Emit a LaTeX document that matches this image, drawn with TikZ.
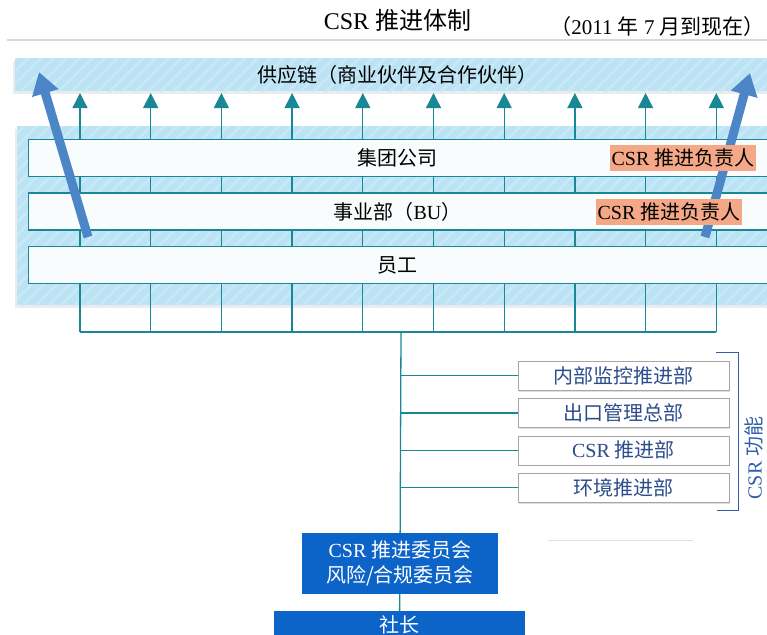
\documentclass[tikz,border=0pt]{standalone}
\usepackage{fontspec}
\setmainfont{Liberation Serif}
\newfontfamily\zhfont{Noto Sans CJK SC}
\newcommand{\zh}[1]{{\zhfont #1}}
\usetikzlibrary{positioning,arrows.meta,shadows,patterns.meta}

\definecolor{panelblue}{RGB}{188,227,244}
\definecolor{hatchblue}{RGB}{200,234,248}
\definecolor{tealline}{RGB}{25,135,150}
\definecolor{barfill}{RGB}{248,252,252}
\definecolor{respfill}{RGB}{245,168,135}
\definecolor{bigarrow}{RGB}{76,134,198}
\definecolor{deptblue}{RGB}{44,76,140}
\definecolor{bracketblue}{RGB}{50,95,170}
\definecolor{boardblue}{RGB}{12,100,200}

\begin{document}
\begin{tikzpicture}[
    x=1pt, y=-1pt,
    every node/.style={font=\fontsize{20}{25}\selectfont, inner sep=0pt},
    band/.style={fill=panelblue,
        postaction={pattern={Lines[angle=45,distance=9pt,line width=2.5pt]}, pattern color=hatchblue},
        drop shadow={shadow xshift=-2pt, shadow yshift=-3pt, fill=black!15}},
    bar/.style={draw=tealline, line width=1.2pt, fill=barfill, anchor=west,
        minimum width=760pt, minimum height=37pt},
    resp/.style={fill=respfill, minimum width=146pt, minimum height=26pt},
    dept/.style={draw=black!35, fill=white, text=deptblue, minimum width=211pt, minimum height=29pt,
        drop shadow={shadow xshift=1pt, shadow yshift=-1.5pt, fill=black!25}},
    board/.style={fill=boardblue, text=white, align=center, minimum width=196pt},
    column/.style={draw=tealline, line width=1.3pt},
    bigarr/.style={draw=bigarrow, line width=9pt, -{Triangle[width=26pt,length=22pt]}}
    ]
    \useasboundingbox (0,0) rectangle (767,634);

    % heading
    \node[font=\fontsize{24}{28}\selectfont] (title) at (397.5,20) {CSR \zh{推进体制}};
    \node[anchor=east, font=\fontsize{21}{25}\selectfont] (period) at (765,27) {\zh{（}2011 \zh{年} 7 \zh{月到现在）}};
    \draw[black!15, line width=1.2pt] (7,40) -- (767,40);

    % blue backgrounds
    \node[band, anchor=north west, minimum width=770pt, minimum height=33pt] (chain) at (15,58) {};
    \node[band, anchor=north west, minimum width=770pt, minimum height=179pt] (panel) at (17,126) {};
    \node (chaintext) at (chain -| title) {\zh{供应链（商业伙伴及合作伙伴）}};

    % columns up to the supply chain
    \foreach \i in {1,...,10} {
        \coordinate (top\i) at ({80+70.7*(\i-1)}, 93);
        \coordinate (bot\i) at ({80+70.7*(\i-1)}, 332);
        \draw[column, -{Triangle[width=15pt,length=15pt]}] (bot\i) -- (top\i);
    }
    \draw[column] (bot1) -- (bot10);

    % levels
    \node[bar] (group) at (28,158) {};
    \node[bar] (bu) at (28,211.5) {};
    \node[bar] (staff) at (28,265) {};
    \node (grouptext) at (group -| title) {\zh{集团公司}};
    \node (butext) at (bu -| title) {\zh{事业部（}BU\zh{）}};
    \node (stafftext) at (staff -| title) {\zh{员工}};

    \coordinate (lefttail) at (88,237);
    \coordinate (lefthead) at (39,72);
    \coordinate (righttail) at (705,237);
    \coordinate (righthead) at (750,73);
    \draw[bigarr] (lefttail) -- (lefthead);
    \draw[bigarr] (righttail) -- (righthead);

    \node[resp] (resp1) at (683,158) {CSR \zh{推进负责人}};
    \node[resp] (resp2) at (669,212) {CSR \zh{推进负责人}};

    % CSR functions
    \node[dept] (audit) at (623.5,375.5) {\zh{内部监控推进部}};
    \node[dept, below=8pt of audit] (export) {\zh{出口管理总部}};
    \node[dept, below=8pt of export] (csrdept) {CSR \zh{推进部}};
    \node[dept, below=8pt of csrdept] (envdept) {\zh{环境推进部}};
    \draw[bracketblue, line width=1.3pt] ([xshift=-13pt,yshift=8pt]audit.north east) -- ++(22,0)
        |- ([xshift=-12pt,yshift=-8pt]envdept.south east);
    \node[rotate=90, text=bracketblue] (csrfunc) at (754,458) {CSR \zh{功能}};

    % committees
    \node[board, minimum height=61pt] (board) at (400,563.5) {CSR \zh{推进委员会}\\\zh{风险/合规委员会}};
    \node[board, anchor=north, minimum width=251pt, minimum height=28pt] (chief) at (399.5,611) {\zh{社长}};
    \draw[black!12, line width=1pt] (548,540) -- (693,540);

    \coordinate (hub) at (401,332);
    \draw[column] (hub) -- (board);
    \draw[column] (board) -- (chief);
    \foreach \d in {audit,export,csrdept,envdept}
        \draw[column] (hub |- \d) -- (\d);
\end{tikzpicture}
\end{document}
